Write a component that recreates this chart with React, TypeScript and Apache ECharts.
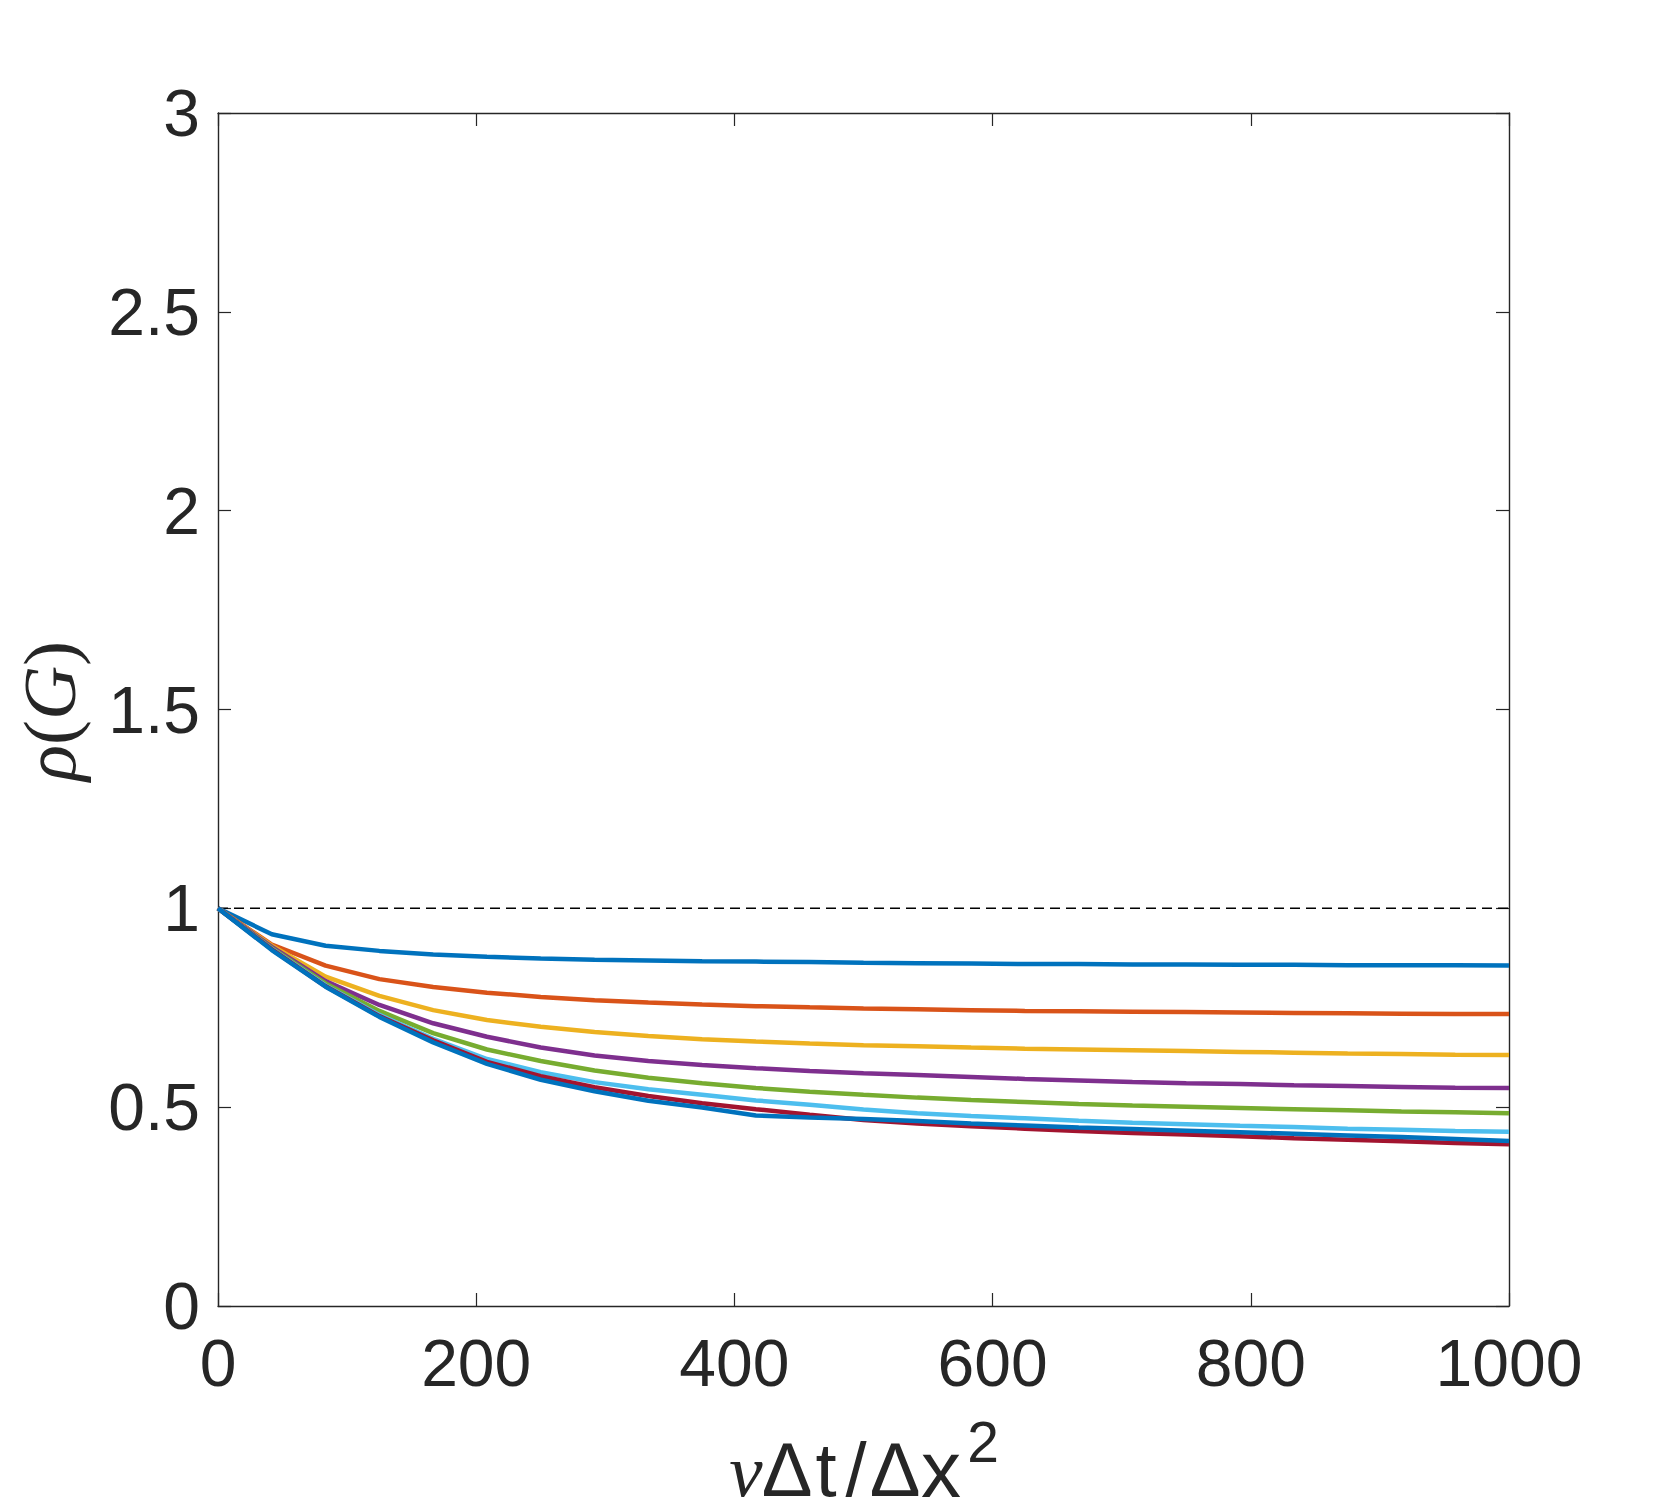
import React, { useEffect, useRef } from "react";
import * as echarts from "echarts";

const xValues = [0, 41.67, 83.33, 125, 166.67, 208.33, 250, 291.67, 333.33, 375, 416.67, 458.33, 500, 541.67, 583.33, 625, 666.67, 708.33, 750, 791.67, 833.33, 875, 916.67, 958.33, 1000];

const seriesBlue1 = [1, 0.935, 0.906, 0.893, 0.884, 0.878, 0.874, 0.871, 0.869, 0.867, 0.866, 0.865, 0.863, 0.862, 0.861, 0.860, 0.860, 0.859, 0.859, 0.858, 0.858, 0.857, 0.857, 0.857, 0.856];
const seriesOrange = [1, 0.909, 0.856, 0.822, 0.802, 0.788, 0.777, 0.769, 0.763, 0.758, 0.754, 0.751, 0.748, 0.746, 0.744, 0.742, 0.741, 0.740, 0.739, 0.738, 0.737, 0.736, 0.735, 0.734, 0.734];
const seriesYellow = [1, 0.906, 0.828, 0.780, 0.744, 0.719, 0.702, 0.689, 0.679, 0.671, 0.665, 0.660, 0.656, 0.653, 0.650, 0.647, 0.645, 0.643, 0.641, 0.639, 0.637, 0.635, 0.634, 0.632, 0.631];
const seriesPurple = [1, 0.903, 0.817, 0.757, 0.711, 0.677, 0.650, 0.630, 0.616, 0.606, 0.598, 0.591, 0.585, 0.581, 0.576, 0.571, 0.567, 0.563, 0.560, 0.558, 0.555, 0.553, 0.551, 0.549, 0.548];
const seriesGreen = [1, 0.900, 0.811, 0.742, 0.686, 0.645, 0.616, 0.592, 0.574, 0.560, 0.548, 0.539, 0.531, 0.524, 0.518, 0.513, 0.508, 0.504, 0.501, 0.498, 0.495, 0.492, 0.489, 0.487, 0.485];
const seriesLightBlue = [1, 0.898, 0.806, 0.732, 0.672, 0.621, 0.588, 0.563, 0.545, 0.531, 0.517, 0.506, 0.494, 0.485, 0.478, 0.472, 0.466, 0.461, 0.457, 0.453, 0.450, 0.446, 0.443, 0.440, 0.438];
const seriesRed = [1, 0.897, 0.804, 0.729, 0.668, 0.614, 0.578, 0.550, 0.528, 0.510, 0.495, 0.481, 0.468, 0.459, 0.452, 0.446, 0.440, 0.435, 0.431, 0.427, 0.422, 0.418, 0.414, 0.410, 0.407];
const seriesBlue2 = [1, 0.895, 0.803, 0.727, 0.663, 0.609, 0.569, 0.540, 0.516, 0.499, 0.479, 0.474, 0.470, 0.465, 0.459, 0.454, 0.449, 0.445, 0.441, 0.437, 0.433, 0.429, 0.425, 0.420, 0.415];

const allSeries = [seriesBlue1, seriesOrange, seriesYellow, seriesPurple, seriesGreen, seriesLightBlue, seriesRed, seriesBlue2];
const seriesColors = ["#0072BD", "#D95319", "#EDB120", "#7E2F8E", "#77AC30", "#4DBEEE", "#A2142F", "#0072BD"];

const refLineX = [0, 1000];
const refLineY = [1, 1];

const xMin = 0, xMax = 1000, xStep = 200;
const yMin = 0, yMax = 3, yStep = 0.5;

const AXIS = "#262626";
const SANS = "'Liberation Sans', Arial, Helvetica, sans-serif";
const SERIF = "'Liberation Serif', 'Times New Roman', serif";

function glyph(text: string, x: number, y: number, fontSize: number, family: string, italic = false) {
  return {
    type: "text",
    x, y,
    style: {
      text,
      fontFamily: family, fontStyle: italic ? "italic" : "normal", fontSize, lineHeight: Math.round(fontSize * 0.8), fill: AXIS,
      align: "center", verticalAlign: "middle",
      textAlign: "center", textVerticalAlign: "middle",
    },
  };
}

export default function App() {
  const ref = useRef<HTMLDivElement>(null);
  useEffect(() => {
    if (!ref.current) return;
    const chart = echarts.init(ref.current, null, { renderer: "svg" });
    const axisLine = { show: true, onZero: false, lineStyle: { color: AXIS, width: 1.4 } };
    const axisTick = { show: true, inside: true, length: 13, lineStyle: { color: AXIS, width: 1.2 } };
    const labelStyle = { fontSize: 66, fontFamily: SANS, color: AXIS, formatter: (v: number) => String(v) };
    const option: any = {
      animation: false,
      backgroundColor: "#ffffff",
      grid: { left: 218, right: 158, top: 113, bottom: 206, containLabel: false },
      xAxis: [
        {
          type: "value", min: xMin, max: xMax, interval: xStep, position: "bottom",
          axisLine, axisTick,
          axisLabel: { ...labelStyle, margin: 24, showMinLabel: true, showMaxLabel: true },
          splitLine: { show: false },
        },
        {
          type: "value", min: xMin, max: xMax, interval: xStep, position: "top",
          axisLine, axisTick, axisLabel: { show: false }, splitLine: { show: false },
        },
      ],
      yAxis: [
        {
          type: "value", min: yMin, max: yMax, interval: yStep, position: "left",
          axisLine, axisTick,
          axisLabel: { ...labelStyle, margin: 18, showMinLabel: true, showMaxLabel: true },
          splitLine: { show: false },
        },
        {
          type: "value", min: yMin, max: yMax, interval: yStep, position: "right",
          axisLine, axisTick, axisLabel: { show: false }, splitLine: { show: false },
        },
      ],
      series: [
        {
          type: "line",
          data: refLineX.map((x, i) => [x, refLineY[i]]),
          showSymbol: false,
          lineStyle: { color: "#000000", width: 1.5, type: [10, 6] },
          z: 1,
        },
        ...allSeries.map((vals, si) => ({
          type: "line",
          data: xValues.map((x, i) => [x, vals[i]]),
          showSymbol: false,
          lineStyle: { color: seriesColors[si], width: 4.5 },
          itemStyle: { color: seriesColors[si] },
          z: 2 + si,
        })),
      ],
      graphic: [
        {
          type: "text",
          x: 49, y: 711,
          rotation: Math.PI / 2,
          style: {
            text: "{i|ρ}{n|(}{i|G}{n|)}",
            align: "center", verticalAlign: "middle",
            textAlign: "center", textVerticalAlign: "middle",
            fill: AXIS,
            rich: {
              i: { fontFamily: SERIF, fontStyle: "italic", fontSize: 75, fill: AXIS },
              n: { fontFamily: SERIF, fontSize: 75, fill: AXIS },
            },
          },
        },
        glyph("ν", 746, 1470, 75, SERIF, true),
        glyph("Δ", 787, 1469, 76, SANS),
        glyph("t", 826, 1469, 76, SANS),
        glyph("/", 856, 1469, 76, SANS),
        glyph("Δ", 895, 1469, 76, SANS),
        glyph("x", 941, 1469, 80, SANS),
        glyph("2", 983, 1442, 57, SANS),
      ],
    };
    chart.setOption(option);
    return () => chart.dispose();
  }, []);
  return (
    <div
      ref={ref}
      style={{ position: "absolute", left: 0, top: 0, width: 1667, height: 1512, background: "#fff" }}
    />
  );
}
